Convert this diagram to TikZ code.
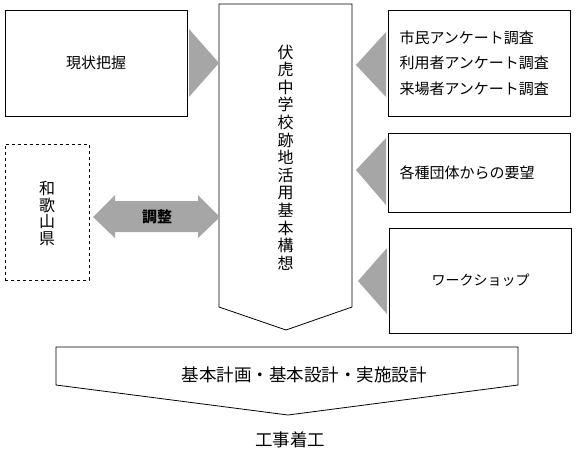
\documentclass[tikz,border=0pt]{standalone}
\usepackage{fontspec}
\setmainfont{Noto Sans CJK JP}
\definecolor{arrowgray}{RGB}{166,166,166}
\tikzset{
  box/.style={draw, line width=0.8pt, inner sep=0pt, minimum width=182pt},
  listbox/.style={box, text width=160pt, inner xsep=11pt, align=left},
  vtext/.style={align=center, inner sep=0pt},
  pointer/.style={fill=arrowgray, draw=none},
}
\begin{document}
\begin{tikzpicture}[x=1pt, y=-1pt]
  \useasboundingbox (0,0) rectangle (576,456);
  % boxes
  \node[box, minimum height=106pt, font=\fontsize{15}{18}\selectfont] (genjo) at (96,63) {現状把握};
  \node[box, dashed, minimum width=84pt, minimum height=136pt] (kenbox) at (47,212) {};
  \node[listbox, minimum height=106pt, font=\fontsize{15}{25.5}\selectfont] (survey) at (479.5,63)
    {市民アンケート調査\\利用者アンケート調査\\来場者アンケート調査};
  \node[listbox, minimum height=79pt, font=\fontsize{15}{18}\selectfont] (youbou) at (479.5,172.5)
    {各種団体からの要望};
  \node[box, minimum height=105pt, font=\fontsize{14}{18}\selectfont] (wshop) at (480.5,280.5)
    {ワークショップ};
  % pentagons
  \draw[line width=0.8pt] (219,4) -- (352,4) -- (352,307) -- (286,330) -- (219,307) -- cycle;
  \draw[line width=0.8pt] (56,347) -- (518,347) -- (518,385) -- (288,415) -- (56,385) -- cycle;
  % texts
  \node[vtext, font=\fontsize{16}{17.6}\selectfont] (kousou) at (285.5,157.5)
    {伏\\虎\\中\\学\\校\\跡\\地\\活\\用\\基\\本\\構\\想};
  \node[vtext, font=\fontsize{16}{16.8}\selectfont] (ken) at (47,213.5) {和\\歌\\山\\県};
  \node[font=\fontsize{17.5}{20}\selectfont] (keikaku) at (304,375) {基本計画・基本設計・実施設計};
  \node[font=\fontsize{17.5}{20}\selectfont] (chakkou) at (290,440) {工事着工};
  % gray pointers
  \begin{scope}[pointer]
    \fill (189,29) -- (219,63) -- (189,97) -- cycle;
    \fill (386,32) -- (356,65) -- (386,97) -- cycle;
    \fill (386,138) -- (356,170) -- (386,205) -- cycle;
    \fill (387,248) -- (358,281) -- (387,314) -- cycle;
    \fill (93,217) -- (115,195) -- (115,201) -- (198,201) -- (198,195) -- (220,217)
      -- (198,238) -- (198,232) -- (115,232) -- (115,238) -- cycle;
  \end{scope}
  \node[font=\bfseries\fontsize{15}{18}\selectfont] (chousei) at (157,217) {調整};
\end{tikzpicture}
\end{document}
